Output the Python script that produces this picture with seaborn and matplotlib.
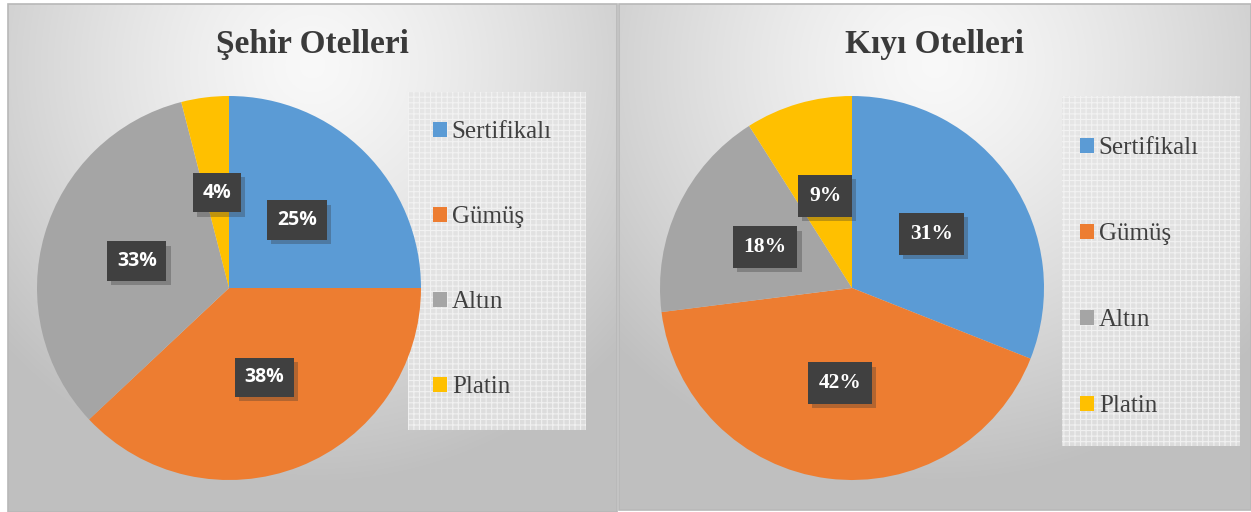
import numpy as np
import matplotlib.pyplot as plt
import matplotlib.patheffects as pe
from matplotlib.patches import Rectangle, Patch
import seaborn as sns

# Data
categories = ['Sertifikalı', 'Gümüş', 'Altın', 'Platin']
sehir_values = [25, 38, 33, 4]
kiyi_values = [31, 42, 18, 9]
titles = ['Şehir Otelleri', 'Kıyı Otelleri']

sns.set_theme(style='white')
plt.rcParams['font.family'] = ['Liberation Serif', 'DejaVu Serif']
plt.rcParams['hatch.linewidth'] = 0.8

colors = sns.color_palette(['#5B9BD5', '#ED7D31', '#A5A5A5', '#FFC000'])

W, H = 1251, 512
fig = plt.figure(figsize=(W / 100, H / 100), dpi=100)
fig.patch.set_facecolor('white')

# background panels (pixel coords)
bg = fig.add_axes([0, 0, 1, 1], zorder=0)
bg.set_xlim(0, W)
bg.set_ylim(H, 0)
bg.axis('off')

panels = [(8, 617, 4, 512), (619, 1251, 4, 510)]
for (x0, x1, y0, y1) in panels:
	nx, ny = x1 - x0, y1 - y0
	xx, yy = np.meshgrid(np.linspace(-1, 1, nx), np.linspace(0, 1, ny))
	d = np.sqrt((xx * 0.9) ** 2 + ((yy - 0.12) * 1.5) ** 2)
	g = np.clip(0.975 - 0.17 * d ** 1.3, 0.75, 1)
	img = np.dstack([g, g, g])
	bg.imshow(img, extent=(x0, x1, y1, y0), aspect='auto', interpolation='bilinear')
	bg.add_patch(Rectangle((x0, y0), nx, ny, fill=False, edgecolor='#b8b8b8', linewidth=1.2))

# pies
pie_boxes = [(37, 96), (660, 96)]
legend_boxes = [(408, 92, 178, 338), (1062, 96, 178, 350)]
legend_anchor = [(433, 121), (1080, 137)]
legend_spacing = [2.52, 2.56]
label_fonts = [('Open Sans', 14), ('Liberation Serif', 15.5)]
title_x = [312, 934]

for i, vals in enumerate([sehir_values, kiyi_values]):
	px, py = pie_boxes[i]
	ax = fig.add_axes([px / W, 1 - (py + 384) / H, 384 / W, 384 / H], zorder=1)
	wedges, texts, autotexts = ax.pie(
		vals, colors=colors, startangle=90, counterclock=False, radius=1,
		autopct=lambda p: f'{p:.0f}%', pctdistance=0.5,
		wedgeprops={'linewidth': 0}
	)
	ax.set_xlim(-1, 1)
	ax.set_ylim(-1, 1)
	ax.set_aspect('equal')
	fam, size = label_fonts[i]
	for t in autotexts:
		t.set_family(fam)
		t.set_fontsize(size)
		t.set_fontweight('bold')
		t.set_color('white')
		t.set_bbox(dict(boxstyle='square,pad=0.5', facecolor='#404040', edgecolor='none'))
		t.get_bbox_patch().set_path_effects(
			[pe.withSimplePatchShadow(offset=(3, -3), alpha=0.3, shadow_rgbFace='#303030'), pe.Normal()])

	# legend background with grid pattern
	lx, ly, lw, lh = legend_boxes[i]
	bg.add_patch(Rectangle((lx, ly), lw, lh, facecolor='#e4e4e4', edgecolor='#f6f6f6',
						   hatch='+++', linewidth=0, alpha=0.8, zorder=5))

	handles = [Patch(facecolor=c, edgecolor='none') for c in colors]
	ax_leg = fig.add_axes([0, 0, 1, 1], zorder=3)
	ax_leg.axis('off')
	ax_leg.patch.set_alpha(0)
	ax_leg.legend(
		handles, categories, loc='upper left',
		bbox_to_anchor=(legend_anchor[i][0] / W, 1 - legend_anchor[i][1] / H),
		bbox_transform=fig.transFigure, frameon=False, fontsize=18,
		handlelength=0.55, handleheight=0.55, handletextpad=0.2,
		labelspacing=legend_spacing[i], borderpad=0, borderaxespad=0, labelcolor='#404040'
	)

	fig.text(title_x[i] / W, 1 - 45 / H, titles[i], ha='center', va='center',
			 fontsize=24, fontweight='bold', color='#3a3a3a', zorder=4)

plt.savefig('out.png', dpi=100)
plt.close()
